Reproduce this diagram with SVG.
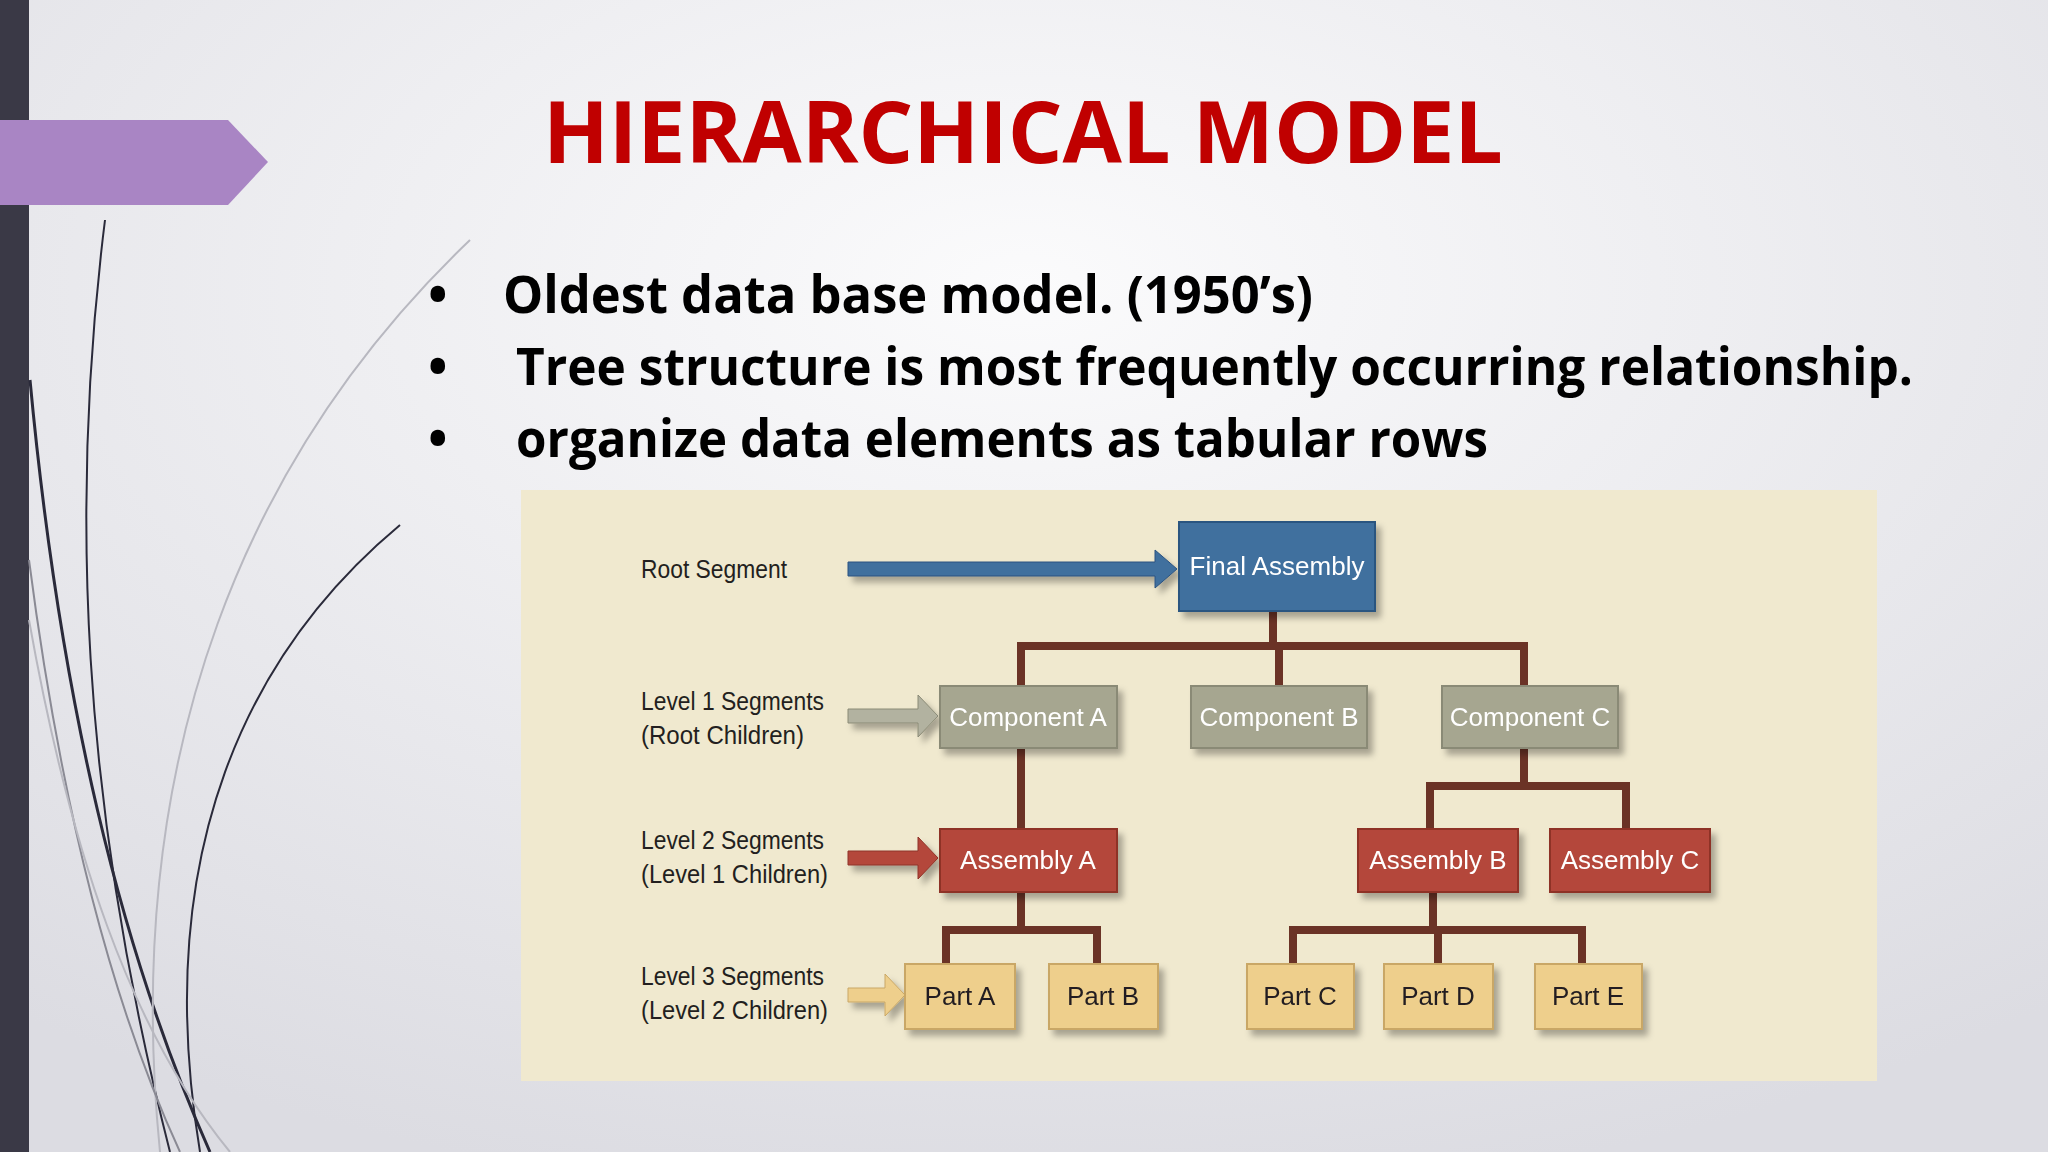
<svg xmlns="http://www.w3.org/2000/svg" width="2048" height="1152" viewBox="0 0 2048 1152">
<defs>
<radialGradient id="bg" cx="0.5" cy="0.25" r="0.8"><stop offset="0" stop-color="#fbfbfc"/><stop offset="1" stop-color="#dcdce2"/></radialGradient>
<filter id="sh" x="-10%" y="-10%" width="130%" height="140%"><feDropShadow dx="5" dy="6" stdDeviation="3" flood-color="#000" flood-opacity="0.3"/></filter>
<style>
.b{font-family:"Open Sans","Liberation Sans",sans-serif;font-weight:bold;font-size:52px;fill:#000}
.lab{font-family:"Liberation Sans",sans-serif;font-size:25px;fill:#231f20}
.nt{font-family:"Liberation Sans",sans-serif;font-size:26px;text-anchor:middle}
.w{fill:#fff}.d{fill:#231f20}
.con{stroke:#6b3326;stroke-width:8;fill:none}
.blue{fill:#3f6f9e;stroke:#2c5480;stroke-width:2}
.gray{fill:#a6a690;stroke:#8a8a76;stroke-width:2}
.red{fill:#b4473a;stroke:#8e3328;stroke-width:2}
.yel{fill:#eecf8c;stroke:#c9a766;stroke-width:2}
</style>
</defs>
<rect width="2048" height="1152" fill="url(#bg)"/>
<rect x="0" y="0" width="29" height="1152" fill="#3a3946"/>
<g fill="none" stroke-width="2">
<path d="M105 220 C70 500 80 800 170 1152" stroke="#2a2a3a"/>
<path d="M30 380 C60 700 120 950 210 1152" stroke="#2a2a3a" stroke-width="3"/>
<path d="M400 525 C250 650 150 850 200 1152" stroke="#2a2a3a"/>
<path d="M470 240 C250 450 120 750 160 1152" stroke="#b8b8c0"/>
<path d="M29 560 C60 800 110 1000 180 1152" stroke="#8a8a94"/>
<path d="M29 620 C70 850 130 1030 230 1152" stroke="#b8b8c0"/>
</g>
<polygon points="0,120 228,120 268,162 228,205 0,205" fill="#a985c4"/>
<text x="1023" y="163" text-anchor="middle" font-family="'Open Sans','Liberation Sans',sans-serif" font-weight="bold" font-size="86" fill="#c00000" textLength="960" lengthAdjust="spacingAndGlyphs">HIERARCHICAL MODEL</text>
<g class="b">
<text x="428" y="313">•</text><text x="503" y="313" textLength="810" lengthAdjust="spacingAndGlyphs">Oldest data base model. (1950’s)</text>
<text x="428" y="385">•</text><text x="516" y="385" textLength="1397" lengthAdjust="spacingAndGlyphs">Tree structure is  most frequently occurring relationship.</text>
<text x="428" y="457">•</text><text x="516" y="457" textLength="972" lengthAdjust="spacingAndGlyphs">organize data elements as tabular rows</text>
</g>
<rect x="521" y="490" width="1356" height="591" fill="#f0e9cf"/>
<g class="lab">
<text x="641" y="578" textLength="146" lengthAdjust="spacingAndGlyphs">Root Segment</text>
<text x="641" y="710" textLength="183" lengthAdjust="spacingAndGlyphs">Level 1 Segments</text>
<text x="641" y="744" textLength="163" lengthAdjust="spacingAndGlyphs">(Root Children)</text>
<text x="641" y="849" textLength="183" lengthAdjust="spacingAndGlyphs">Level 2 Segments</text>
<text x="641" y="883" textLength="187" lengthAdjust="spacingAndGlyphs">(Level 1 Children)</text>
<text x="641" y="985" textLength="183" lengthAdjust="spacingAndGlyphs">Level 3 Segments</text>
<text x="641" y="1019" textLength="187" lengthAdjust="spacingAndGlyphs">(Level 2 Children)</text>
</g>
<g id="arrows" filter="url(#sh)">
<polygon points="848,562 1155,562 1155,550 1177,569 1155,588 1155,576 848,576" fill="#3f6f9e" stroke="#2c5480"/>
<polygon points="848,709 918,709 918,695 938,716 918,737 918,723 848,723" fill="#b2b2a0" stroke="#8a8a76"/>
<polygon points="848,851 918,851 918,837 938,858 918,879 918,865 848,865" fill="#b4473a" stroke="#8e3328"/>
<polygon points="848,988 885,988 885,974 905,995 885,1016 885,1002 848,1002" fill="#eecf8c" stroke="#c9a766"/>
</g>
<g id="connectors" class="con">
<path d="M1273 611 V646 M1021 686 V646 H1524 V686 M1279 646 V686"/>
<path d="M1021 748 V829"/>
<path d="M1524 748 V786 M1430 829 V786 H1626 V829"/>
<path d="M1021 892 V930 M946 964 V930 H1097 V964"/>
<path d="M1433 892 V930 M1293 964 V930 H1582 V964 M1438 930 V964"/>
</g>
<g filter="url(#sh)">
<g id="final"><rect x="1179" y="522" width="196" height="89" class="blue"/><text x="1277" y="575" class="nt w">Final Assembly</text></g>
<g id="compA"><rect x="940" y="686" width="177" height="62" class="gray"/><text x="1028" y="726" class="nt w">Component A</text></g>
<g id="compB"><rect x="1191" y="686" width="176" height="62" class="gray"/><text x="1279" y="726" class="nt w">Component B</text></g>
<g id="compC"><rect x="1442" y="686" width="176" height="62" class="gray"/><text x="1530" y="726" class="nt w">Component C</text></g>
<g id="asmA"><rect x="940" y="829" width="177" height="63" class="red"/><text x="1028" y="869" class="nt w">Assembly A</text></g>
<g id="asmB"><rect x="1358" y="829" width="160" height="63" class="red"/><text x="1438" y="869" class="nt w">Assembly B</text></g>
<g id="asmC"><rect x="1550" y="829" width="160" height="63" class="red"/><text x="1630" y="869" class="nt w">Assembly C</text></g>
<g id="partA"><rect x="905" y="964" width="110" height="65" class="yel"/><text x="960" y="1005" class="nt d">Part A</text></g>
<g id="partB"><rect x="1049" y="964" width="109" height="65" class="yel"/><text x="1103" y="1005" class="nt d">Part B</text></g>
<g id="partC"><rect x="1247" y="964" width="107" height="65" class="yel"/><text x="1300" y="1005" class="nt d">Part C</text></g>
<g id="partD"><rect x="1384" y="964" width="109" height="65" class="yel"/><text x="1438" y="1005" class="nt d">Part D</text></g>
<g id="partE"><rect x="1535" y="964" width="107" height="65" class="yel"/><text x="1588" y="1005" class="nt d">Part E</text></g>
</g>
</svg>
